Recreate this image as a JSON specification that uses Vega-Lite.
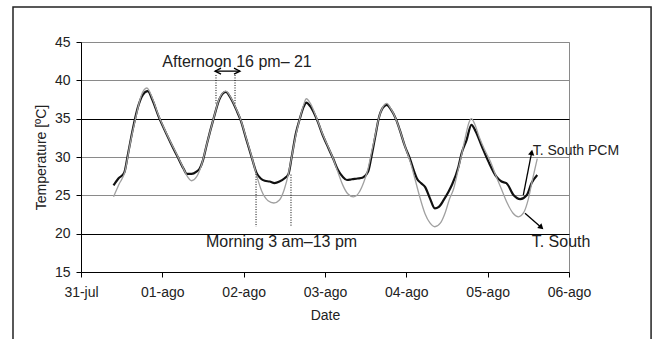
{
 "$schema": "https://vega.github.io/schema/vega-lite/v6.json",
 "width": 488, "height": 230,
 "autosize": {"type": "none"},
 "padding": {"left": 81, "top": 42, "right": 87, "bottom": 67},
 "background": "white",
 "config": {
  "font": "Liberation Sans",
  "view": {"stroke": "#8a8a8a", "strokeWidth": 1},
  "axis": {"labelFont": "Liberation Sans", "titleFont": "Liberation Sans", "labelFontSize": 14, "titleFontSize": 14, "titleFontWeight": "normal", "labelColor": "#222", "titleColor": "#222", "domainColor": "#000", "tickColor": "#000", "tickSize": 5}
 },
 "datasets": {
  "one": [{}],
  "temps": [
   {"t":"2008-07-31T09:36Z","s":"South","temp":24.8},
   {"t":"2008-07-31T11:17Z","s":"South","temp":26.5},
   {"t":"2008-07-31T12:58Z","s":"South","temp":28.1},
   {"t":"2008-07-31T14:24Z","s":"South","temp":31.5},
   {"t":"2008-07-31T16:05Z","s":"South","temp":35.0},
   {"t":"2008-07-31T17:46Z","s":"South","temp":38.0},
   {"t":"2008-07-31T19:26Z","s":"South","temp":39.0},
   {"t":"2008-07-31T21:07Z","s":"South","temp":37.6},
   {"t":"2008-07-31T22:48Z","s":"South","temp":35.5},
   {"t":"2008-08-01T00:29Z","s":"South","temp":33.8},
   {"t":"2008-08-01T02:24Z","s":"South","temp":32.0},
   {"t":"2008-08-01T04:19Z","s":"South","temp":30.3},
   {"t":"2008-08-01T06:14Z","s":"South","temp":28.5},
   {"t":"2008-08-01T07:12Z","s":"South","temp":27.6},
   {"t":"2008-08-01T08:38Z","s":"South","temp":26.9},
   {"t":"2008-08-01T10:05Z","s":"South","temp":27.4},
   {"t":"2008-08-01T11:31Z","s":"South","temp":28.9},
   {"t":"2008-08-01T13:12Z","s":"South","temp":31.8},
   {"t":"2008-08-01T15:07Z","s":"South","temp":35.0},
   {"t":"2008-08-01T16:48Z","s":"South","temp":37.6},
   {"t":"2008-08-01T18:43Z","s":"South","temp":38.6},
   {"t":"2008-08-01T20:24Z","s":"South","temp":37.6},
   {"t":"2008-08-01T22:05Z","s":"South","temp":36.0},
   {"t":"2008-08-01T23:02Z","s":"South","temp":35.0},
   {"t":"2008-08-02T00:43Z","s":"South","temp":32.5},
   {"t":"2008-08-02T02:24Z","s":"South","temp":30.0},
   {"t":"2008-08-02T03:50Z","s":"South","temp":27.6},
   {"t":"2008-08-02T05:17Z","s":"South","temp":25.6},
   {"t":"2008-08-02T07:12Z","s":"South","temp":24.3},
   {"t":"2008-08-02T08:53Z","s":"South","temp":24.0},
   {"t":"2008-08-02T10:34Z","s":"South","temp":24.4},
   {"t":"2008-08-02T12:00Z","s":"South","temp":25.8},
   {"t":"2008-08-02T13:12Z","s":"South","temp":27.8},
   {"t":"2008-08-02T14:10Z","s":"South","temp":30.0},
   {"t":"2008-08-02T15:22Z","s":"South","temp":32.8},
   {"t":"2008-08-02T16:34Z","s":"South","temp":35.0},
   {"t":"2008-08-02T17:46Z","s":"South","temp":36.9},
   {"t":"2008-08-02T18:29Z","s":"South","temp":37.6},
   {"t":"2008-08-02T19:41Z","s":"South","temp":37.0},
   {"t":"2008-08-02T21:36Z","s":"South","temp":35.0},
   {"t":"2008-08-02T23:17Z","s":"South","temp":33.0},
   {"t":"2008-08-03T00:58Z","s":"South","temp":31.3},
   {"t":"2008-08-03T02:24Z","s":"South","temp":29.8},
   {"t":"2008-08-03T03:50Z","s":"South","temp":28.0},
   {"t":"2008-08-03T05:17Z","s":"South","temp":26.3},
   {"t":"2008-08-03T06:43Z","s":"South","temp":25.2},
   {"t":"2008-08-03T08:24Z","s":"South","temp":24.8},
   {"t":"2008-08-03T10:05Z","s":"South","temp":25.4},
   {"t":"2008-08-03T11:31Z","s":"South","temp":26.8},
   {"t":"2008-08-03T12:43Z","s":"South","temp":28.5},
   {"t":"2008-08-03T13:41Z","s":"South","temp":30.5},
   {"t":"2008-08-03T14:53Z","s":"South","temp":33.0},
   {"t":"2008-08-03T15:50Z","s":"South","temp":35.0},
   {"t":"2008-08-03T17:02Z","s":"South","temp":36.5},
   {"t":"2008-08-03T18:14Z","s":"South","temp":37.0},
   {"t":"2008-08-03T19:26Z","s":"South","temp":36.3},
   {"t":"2008-08-03T20:53Z","s":"South","temp":35.0},
   {"t":"2008-08-03T22:05Z","s":"South","temp":33.5},
   {"t":"2008-08-03T23:31Z","s":"South","temp":31.5},
   {"t":"2008-08-04T01:12Z","s":"South","temp":29.3},
   {"t":"2008-08-04T02:38Z","s":"South","temp":27.0},
   {"t":"2008-08-04T04:05Z","s":"South","temp":24.6},
   {"t":"2008-08-04T05:31Z","s":"South","temp":22.6},
   {"t":"2008-08-04T06:58Z","s":"South","temp":21.4},
   {"t":"2008-08-04T08:24Z","s":"South","temp":20.9},
   {"t":"2008-08-04T10:05Z","s":"South","temp":21.4},
   {"t":"2008-08-04T11:31Z","s":"South","temp":22.8},
   {"t":"2008-08-04T12:43Z","s":"South","temp":24.5},
   {"t":"2008-08-04T13:55Z","s":"South","temp":25.8},
   {"t":"2008-08-04T15:07Z","s":"South","temp":28.0},
   {"t":"2008-08-04T16:19Z","s":"South","temp":30.3},
   {"t":"2008-08-04T17:31Z","s":"South","temp":32.8},
   {"t":"2008-08-04T18:29Z","s":"South","temp":34.5},
   {"t":"2008-08-04T19:12Z","s":"South","temp":35.0},
   {"t":"2008-08-04T20:10Z","s":"South","temp":34.3},
   {"t":"2008-08-04T21:36Z","s":"South","temp":32.5},
   {"t":"2008-08-04T23:02Z","s":"South","temp":31.0},
   {"t":"2008-08-05T00:43Z","s":"South","temp":29.5},
   {"t":"2008-08-05T02:24Z","s":"South","temp":27.6},
   {"t":"2008-08-05T04:05Z","s":"South","temp":25.8},
   {"t":"2008-08-05T05:46Z","s":"South","temp":24.0},
   {"t":"2008-08-05T07:26Z","s":"South","temp":22.7},
   {"t":"2008-08-05T09:07Z","s":"South","temp":22.2},
   {"t":"2008-08-05T10:34Z","s":"South","temp":22.7},
   {"t":"2008-08-05T12:00Z","s":"South","temp":24.5},
   {"t":"2008-08-05T13:12Z","s":"South","temp":27.0},
   {"t":"2008-08-05T14:38Z","s":"South","temp":29.8},
   {"t":"2008-07-31T09:36Z","s":"PCM","temp":26.3},
   {"t":"2008-07-31T11:02Z","s":"PCM","temp":27.2},
   {"t":"2008-07-31T12:43Z","s":"PCM","temp":27.9},
   {"t":"2008-07-31T13:55Z","s":"PCM","temp":30.5},
   {"t":"2008-07-31T15:22Z","s":"PCM","temp":33.8},
   {"t":"2008-07-31T16:48Z","s":"PCM","temp":36.5},
   {"t":"2008-07-31T18:14Z","s":"PCM","temp":38.1},
   {"t":"2008-07-31T19:41Z","s":"PCM","temp":38.6},
   {"t":"2008-07-31T21:07Z","s":"PCM","temp":37.4},
   {"t":"2008-07-31T22:48Z","s":"PCM","temp":35.4},
   {"t":"2008-08-01T00:29Z","s":"PCM","temp":33.7},
   {"t":"2008-08-01T02:24Z","s":"PCM","temp":31.9},
   {"t":"2008-08-01T04:19Z","s":"PCM","temp":30.2},
   {"t":"2008-08-01T06:14Z","s":"PCM","temp":28.5},
   {"t":"2008-08-01T07:12Z","s":"PCM","temp":27.8},
   {"t":"2008-08-01T08:38Z","s":"PCM","temp":27.8},
   {"t":"2008-08-01T10:05Z","s":"PCM","temp":28.1},
   {"t":"2008-08-01T11:02Z","s":"PCM","temp":28.5},
   {"t":"2008-08-01T12:00Z","s":"PCM","temp":29.6},
   {"t":"2008-08-01T13:12Z","s":"PCM","temp":31.8},
   {"t":"2008-08-01T15:07Z","s":"PCM","temp":35.0},
   {"t":"2008-08-01T16:48Z","s":"PCM","temp":37.5},
   {"t":"2008-08-01T18:43Z","s":"PCM","temp":38.5},
   {"t":"2008-08-01T20:24Z","s":"PCM","temp":37.5},
   {"t":"2008-08-01T22:05Z","s":"PCM","temp":35.9},
   {"t":"2008-08-01T23:02Z","s":"PCM","temp":34.9},
   {"t":"2008-08-02T00:43Z","s":"PCM","temp":32.4},
   {"t":"2008-08-02T02:24Z","s":"PCM","temp":29.9},
   {"t":"2008-08-02T03:50Z","s":"PCM","temp":27.9},
   {"t":"2008-08-02T05:02Z","s":"PCM","temp":27.2},
   {"t":"2008-08-02T06:14Z","s":"PCM","temp":26.9},
   {"t":"2008-08-02T07:41Z","s":"PCM","temp":26.8},
   {"t":"2008-08-02T09:07Z","s":"PCM","temp":26.6},
   {"t":"2008-08-02T10:34Z","s":"PCM","temp":26.8},
   {"t":"2008-08-02T12:00Z","s":"PCM","temp":27.2},
   {"t":"2008-08-02T13:12Z","s":"PCM","temp":27.75},
   {"t":"2008-08-02T14:10Z","s":"PCM","temp":30.0},
   {"t":"2008-08-02T15:22Z","s":"PCM","temp":33.0},
   {"t":"2008-08-02T16:34Z","s":"PCM","temp":35.0},
   {"t":"2008-08-02T17:46Z","s":"PCM","temp":36.6},
   {"t":"2008-08-02T18:29Z","s":"PCM","temp":37.1},
   {"t":"2008-08-02T19:41Z","s":"PCM","temp":36.6},
   {"t":"2008-08-02T21:36Z","s":"PCM","temp":34.9},
   {"t":"2008-08-02T23:17Z","s":"PCM","temp":32.9},
   {"t":"2008-08-03T00:58Z","s":"PCM","temp":31.2},
   {"t":"2008-08-03T02:24Z","s":"PCM","temp":29.8},
   {"t":"2008-08-03T03:50Z","s":"PCM","temp":28.3},
   {"t":"2008-08-03T05:17Z","s":"PCM","temp":27.4},
   {"t":"2008-08-03T06:29Z","s":"PCM","temp":27.0},
   {"t":"2008-08-03T07:55Z","s":"PCM","temp":27.1},
   {"t":"2008-08-03T09:36Z","s":"PCM","temp":27.2},
   {"t":"2008-08-03T11:02Z","s":"PCM","temp":27.3},
   {"t":"2008-08-03T12:43Z","s":"PCM","temp":28.1},
   {"t":"2008-08-03T13:41Z","s":"PCM","temp":30.0},
   {"t":"2008-08-03T14:53Z","s":"PCM","temp":32.8},
   {"t":"2008-08-03T15:50Z","s":"PCM","temp":35.0},
   {"t":"2008-08-03T17:02Z","s":"PCM","temp":36.4},
   {"t":"2008-08-03T18:14Z","s":"PCM","temp":36.8},
   {"t":"2008-08-03T19:26Z","s":"PCM","temp":36.2},
   {"t":"2008-08-03T20:53Z","s":"PCM","temp":35.0},
   {"t":"2008-08-03T22:05Z","s":"PCM","temp":33.5},
   {"t":"2008-08-03T23:31Z","s":"PCM","temp":31.5},
   {"t":"2008-08-04T01:12Z","s":"PCM","temp":29.6},
   {"t":"2008-08-04T02:24Z","s":"PCM","temp":28.0},
   {"t":"2008-08-04T03:07Z","s":"PCM","temp":27.2},
   {"t":"2008-08-04T04:19Z","s":"PCM","temp":26.6},
   {"t":"2008-08-04T05:31Z","s":"PCM","temp":26.1},
   {"t":"2008-08-04T06:58Z","s":"PCM","temp":24.6},
   {"t":"2008-08-04T08:24Z","s":"PCM","temp":23.3},
   {"t":"2008-08-04T09:36Z","s":"PCM","temp":23.5},
   {"t":"2008-08-04T11:02Z","s":"PCM","temp":24.4},
   {"t":"2008-08-04T12:29Z","s":"PCM","temp":25.5},
   {"t":"2008-08-04T13:26Z","s":"PCM","temp":26.35},
   {"t":"2008-08-04T15:22Z","s":"PCM","temp":28.7},
   {"t":"2008-08-04T16:19Z","s":"PCM","temp":30.5},
   {"t":"2008-08-04T17:46Z","s":"PCM","temp":32.2},
   {"t":"2008-08-04T19:12Z","s":"PCM","temp":34.2},
   {"t":"2008-08-04T20:24Z","s":"PCM","temp":33.4},
   {"t":"2008-08-04T22:19Z","s":"PCM","temp":31.35},
   {"t":"2008-08-05T00:14Z","s":"PCM","temp":29.4},
   {"t":"2008-08-05T02:38Z","s":"PCM","temp":27.4},
   {"t":"2008-08-05T04:05Z","s":"PCM","temp":26.8},
   {"t":"2008-08-05T05:31Z","s":"PCM","temp":26.6},
   {"t":"2008-08-05T07:41Z","s":"PCM","temp":25.0},
   {"t":"2008-08-05T09:36Z","s":"PCM","temp":24.5},
   {"t":"2008-08-05T11:31Z","s":"PCM","temp":25.0},
   {"t":"2008-08-05T12:58Z","s":"PCM","temp":26.6},
   {"t":"2008-08-05T14:38Z","s":"PCM","temp":27.65}
  ]
 },
 "layer": [
  {
   "data": {"name": "temps"},
   "transform": [{"filter": "datum.s === 'PCM'"}],
   "mark": {"type": "line", "color": "#111", "strokeWidth": 2.2, "interpolate": "monotone"},
   "encoding": {
    "x": {"field": "t", "type": "temporal",
     "scale": {"type": "utc", "nice": false, "domain": [{"year": 2008, "month": 7, "date": 31, "utc": true}, {"year": 2008, "month": 8, "date": 6, "utc": true}]},
     "axis": {"title": "Date", "grid": false, "labelPadding": 8, "titlePadding": 9, "labelFlush": false, "labelOverlap": false,
      "values": [{"year": 2008, "month": 7, "date": 31, "utc": true}, {"year": 2008, "month": 8, "date": 1, "utc": true}, {"year": 2008, "month": 8, "date": 2, "utc": true}, {"year": 2008, "month": 8, "date": 3, "utc": true}, {"year": 2008, "month": 8, "date": 4, "utc": true}, {"year": 2008, "month": 8, "date": 5, "utc": true}, {"year": 2008, "month": 8, "date": 6, "utc": true}],
      "labelExpr": "replace(replace(utcFormat(datum.value, '%d-%b'), 'Jul', 'jul'), 'Aug', 'ago')"}},
    "y": {"field": "temp", "type": "quantitative",
     "scale": {"domain": [15, 45], "nice": false, "zero": false},
     "axis": {"title": "Temperature [ºC]", "values": [15, 20, 25, 30, 35, 40, 45], "tickCount": 7, "grid": true, "labelOverlap": false,
      "gridColor": {"condition": {"test": "datum.value === 35 || datum.value === 20", "value": "#000"}, "value": "#8a8a8a"},
      "labelPadding": 6, "titlePadding": 6}}
   }
  },
  {
   "data": {"name": "temps"},
   "transform": [{"filter": "datum.s === 'South'"}],
   "mark": {"type": "line", "color": "#a0a0a0", "strokeWidth": 1.3, "interpolate": "monotone"},
   "encoding": {
    "x": {"field": "t", "type": "temporal"},
    "y": {"field": "temp", "type": "quantitative"}
   }
  },
  {
   "data": {"name": "one"},
   "mark": {"type": "rect", "fill": "transparent", "stroke": "#222", "strokeWidth": 1.5, "clip": false},
   "encoding": {
    "x": {"datum": {"year": 2008, "month": 7, "date": 30, "hours": 3, "minutes": 56, "utc": true}, "type": "temporal"},
    "x2": {"datum": {"year": 2008, "month": 8, "date": 7, "hours": 0, "minutes": 13, "utc": true}},
    "y": {"datum": 49.57, "type": "quantitative"},
    "y2": {"datum": 0}
   }
  },
  {
   "data": {"name": "one"},
   "mark": {"type": "rule", "color": "#000", "strokeWidth": 1, "strokeDash": [1, 1.5]},
   "encoding": {
    "x": {"datum": {"year": 2008, "month": 8, "date": 1, "hours": 15, "minutes": 50, "utc": true}, "type": "temporal"},
    "y": {"datum": 40.7, "type": "quantitative"}, "y2": {"datum": 36.9}
   }
  },
  {
   "data": {"name": "one"},
   "mark": {"type": "rule", "color": "#000", "strokeWidth": 1, "strokeDash": [1, 1.5]},
   "encoding": {
    "x": {"datum": {"year": 2008, "month": 8, "date": 1, "hours": 21, "minutes": 27, "utc": true}, "type": "temporal"},
    "y": {"datum": 40.7, "type": "quantitative"}, "y2": {"datum": 36.9}
   }
  },
  {
   "data": {"name": "one"},
   "mark": {"type": "rule", "color": "#000", "strokeWidth": 1, "strokeDash": [1, 1.5]},
   "encoding": {
    "x": {"datum": {"year": 2008, "month": 8, "date": 2, "hours": 3, "minutes": 39, "utc": true}, "type": "temporal"},
    "y": {"datum": 28.1, "type": "quantitative"}, "y2": {"datum": 20.9}
   }
  },
  {
   "data": {"name": "one"},
   "mark": {"type": "rule", "color": "#000", "strokeWidth": 1, "strokeDash": [1, 1.5]},
   "encoding": {
    "x": {"datum": {"year": 2008, "month": 8, "date": 2, "hours": 13, "minutes": 58, "utc": true}, "type": "temporal"},
    "y": {"datum": 27.7, "type": "quantitative"}, "y2": {"datum": 20.9}
   }
  },
  {
   "data": {"name": "one"},
   "mark": {"type": "rule", "color": "#000", "strokeWidth": 1.3},
   "encoding": {
    "x": {"datum": {"year": 2008, "month": 8, "date": 1, "hours": 15, "minutes": 33, "utc": true}, "type": "temporal"},
    "x2": {"datum": {"year": 2008, "month": 8, "date": 1, "hours": 22, "minutes": 55, "utc": true}},
    "y": {"datum": 41.2, "type": "quantitative"}
   }
  },
  {
   "data": {"name": "one"},
   "mark": {"type": "point", "shape": "M1,-1L-1,0L1,1", "filled": false, "stroke": "#000", "strokeWidth": 1.3, "size": 36, "opacity": 1},
   "encoding": {
    "x": {"datum": {"year": 2008, "month": 8, "date": 1, "hours": 16, "minutes": 26, "utc": true}, "type": "temporal"},
    "y": {"datum": 41.2, "type": "quantitative"}
   }
  },
  {
   "data": {"name": "one"},
   "mark": {"type": "point", "shape": "M-1,-1L1,0L-1,1", "filled": false, "stroke": "#000", "strokeWidth": 1.3, "size": 36, "opacity": 1},
   "encoding": {
    "x": {"datum": {"year": 2008, "month": 8, "date": 1, "hours": 22, "minutes": 2, "utc": true}, "type": "temporal"},
    "y": {"datum": 41.2, "type": "quantitative"}
   }
  },
  {
   "data": {"name": "one"},
   "mark": {"type": "rule", "color": "#000", "strokeWidth": 1.3},
   "encoding": {
    "x": {"datum": {"year": 2008, "month": 8, "date": 5, "hours": 10, "minutes": 31, "utc": true}, "type": "temporal"},
    "x2": {"datum": {"year": 2008, "month": 8, "date": 5, "hours": 12, "minutes": 59, "utc": true}},
    "y": {"datum": 25.04, "type": "quantitative"},
    "y2": {"datum": 30.6}
   }
  },
  {
   "data": {"name": "one"},
   "mark": {"type": "point", "shape": "triangle-up", "filled": true, "color": "#000", "size": 40, "angle": 10.6, "opacity": 1},
   "encoding": {
    "x": {"datum": {"year": 2008, "month": 8, "date": 5, "hours": 12, "minutes": 59, "utc": true}, "type": "temporal"},
    "y": {"datum": 30.6, "type": "quantitative"}
   }
  },
  {
   "data": {"name": "one"},
   "mark": {"type": "rule", "color": "#000", "strokeWidth": 1.3},
   "encoding": {
    "x": {"datum": {"year": 2008, "month": 8, "date": 5, "hours": 11, "minutes": 1, "utc": true}, "type": "temporal"},
    "x2": {"datum": {"year": 2008, "month": 8, "date": 5, "hours": 15, "minutes": 50, "utc": true}},
    "y": {"datum": 22.66, "type": "quantitative"},
    "y2": {"datum": 20.8}
   }
  },
  {
   "data": {"name": "one"},
   "mark": {"type": "point", "shape": "triangle-up", "filled": true, "color": "#000", "size": 40, "angle": 132, "opacity": 1},
   "encoding": {
    "x": {"datum": {"year": 2008, "month": 8, "date": 5, "hours": 15, "minutes": 50, "utc": true}, "type": "temporal"},
    "y": {"datum": 20.8, "type": "quantitative"}
   }
  },
  {
   "data": {"name": "one"},
   "mark": {"type": "text", "align": "left", "baseline": "alphabetic", "fontSize": 16, "font": "Liberation Sans", "color": "#222"},
   "encoding": {
    "x": {"datum": {"year": 2008, "month": 8, "date": 1, "hours": 0, "minutes": 0, "utc": true}, "type": "temporal"},
    "y": {"datum": 41.8, "type": "quantitative"},
    "text": {"value": "Afternoon 16 pm– 21"}
   }
  },
  {
   "data": {"name": "one"},
   "mark": {"type": "text", "align": "left", "baseline": "alphabetic", "fontSize": 16, "font": "Liberation Sans", "color": "#222"},
   "encoding": {
    "x": {"datum": {"year": 2008, "month": 8, "date": 1, "hours": 12, "minutes": 53, "utc": true}, "type": "temporal"},
    "y": {"datum": 18.22, "type": "quantitative"},
    "text": {"value": "Morning 3 am–13 pm"}
   }
  },
  {
   "data": {"name": "one"},
   "mark": {"type": "text", "align": "left", "baseline": "alphabetic", "fontSize": 14, "font": "Liberation Sans", "color": "#222"},
   "encoding": {
    "x": {"datum": {"year": 2008, "month": 8, "date": 5, "hours": 13, "minutes": 18, "utc": true}, "type": "temporal"},
    "y": {"datum": 30.26, "type": "quantitative"},
    "text": {"value": "T. South  PCM"}
   }
  },
  {
   "data": {"name": "one"},
   "mark": {"type": "text", "align": "left", "baseline": "alphabetic", "fontSize": 16, "font": "Liberation Sans", "color": "#222"},
   "encoding": {
    "x": {"datum": {"year": 2008, "month": 8, "date": 5, "hours": 12, "minutes": 59, "utc": true}, "type": "temporal"},
    "y": {"datum": 18.22, "type": "quantitative"},
    "text": {"value": "T. South"}
   }
  }
 ]
}
